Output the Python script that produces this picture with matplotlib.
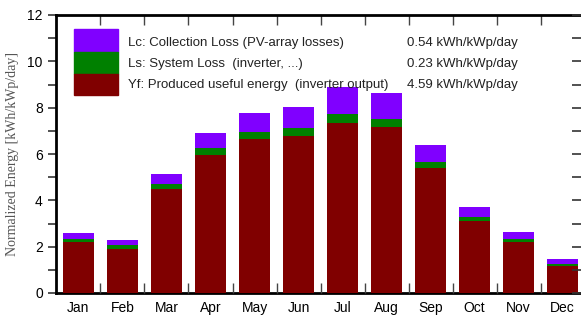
import matplotlib
matplotlib.use("Agg")
import matplotlib.pyplot as plt
from matplotlib.patches import Rectangle
from matplotlib.ticker import MultipleLocator, FixedLocator, NullFormatter

months = ['Jan', 'Feb', 'Mar', 'Apr', 'May', 'Jun',
          'Jul', 'Aug', 'Sep', 'Oct', 'Nov', 'Dec']
yf = [2.19, 1.91, 4.49, 5.97, 6.63, 6.78, 7.34, 7.15, 5.41, 3.12, 2.20, 1.17]
ls = [0.13, 0.15, 0.20, 0.29, 0.33, 0.34, 0.37, 0.36, 0.26, 0.17, 0.13, 0.09]
lc = [0.28, 0.23, 0.45, 0.66, 0.82, 0.92, 1.17, 1.11, 0.73, 0.41, 0.32, 0.22]

legend_labels = ['Lc: Collection Loss (PV-array losses)',
                 'Ls: System Loss  (inverter, ...)',
                 'Yf: Produced useful energy  (inverter output)']
legend_values = ['0.54 kWh/kWp/day', '0.23 kWh/kWp/day', '4.59 kWh/kWp/day']

c_lc = '#8000ff'
c_ls = '#008000'
c_yf = '#800000'

plt.rcParams['font.family'] = ['Liberation Sans', 'DejaVu Sans']

fig = plt.figure(figsize=(5.81, 3.16), dpi=100)
W, H = 581, 316
ax = fig.add_axes([56 / W, 23 / H, (582 - 56) / W, (293 - 15) / H])

x = list(range(1, 13))
bottom2 = [a + b for a, b in zip(yf, ls)]
ax.bar(x, yf, width=0.72, color=c_yf, zorder=3)
ax.bar(x, ls, width=0.72, bottom=yf, color=c_ls, zorder=3)
ax.bar(x, lc, width=0.72, bottom=bottom2, color=c_lc, zorder=3)

ax.set_xlim(0.49, 12.44)
ax.set_ylim(0, 12)

# left y axis, ticks outward
ax.yaxis.set_major_locator(MultipleLocator(2))
ax.yaxis.set_minor_locator(MultipleLocator(1))
ax.tick_params(axis='y', which='both', direction='out', length=6, width=1.2,
               labelsize=10, color='#333333')

# right side: inward ticks, no labels
axr = ax.twinx()
axr.set_ylim(0, 12)
axr.yaxis.set_major_locator(MultipleLocator(2))
axr.yaxis.set_minor_locator(MultipleLocator(1))
axr.tick_params(axis='y', which='both', direction='in', length=7, width=1.2,
                labelright=False, color='#333333')
for s in axr.spines.values():
    s.set_visible(False)

# x axis: labels at months, ticks between bars
ax.set_xticks(x)
ax.set_xticklabels(months, fontsize=10)
ax.tick_params(axis='x', which='major', length=0, pad=6)
ax.xaxis.set_minor_locator(FixedLocator([i + 0.5 for i in range(1, 12)]))
ax.xaxis.set_minor_formatter(NullFormatter())
ax.tick_params(axis='x', which='minor', direction='in', length=7, width=1.0,
               top=True, bottom=True, color='#444444')

for s in ax.spines.values():
    s.set_linewidth(2)
ax.spines['bottom'].set_zorder(1)

ax.set_ylabel('Normalized Energy [kWh/kWp/day]', family='Liberation Serif',
              fontsize=10, color='#555555', labelpad=6)

# manual legend
tr = ax.transAxes
ax.add_patch(Rectangle((0.034, 0.867), 0.084, 0.083, transform=tr,
                       color=c_lc, zorder=5))
ax.add_patch(Rectangle((0.034, 0.788), 0.084, 0.079, transform=tr,
                       color=c_ls, zorder=5))
ax.add_patch(Rectangle((0.034, 0.712), 0.084, 0.076, transform=tr,
                       color=c_yf, zorder=5))
for ypos, lab, val in zip([0.899, 0.824, 0.748], legend_labels, legend_values):
    ax.text(0.137, ypos, lab, transform=tr, fontsize=9.5, va='center',
            color='#222222', zorder=6)
    ax.text(0.667, ypos, val, transform=tr, fontsize=9.5, va='center',
            color='#222222', zorder=6)

fig.savefig('out.png', dpi=100)
